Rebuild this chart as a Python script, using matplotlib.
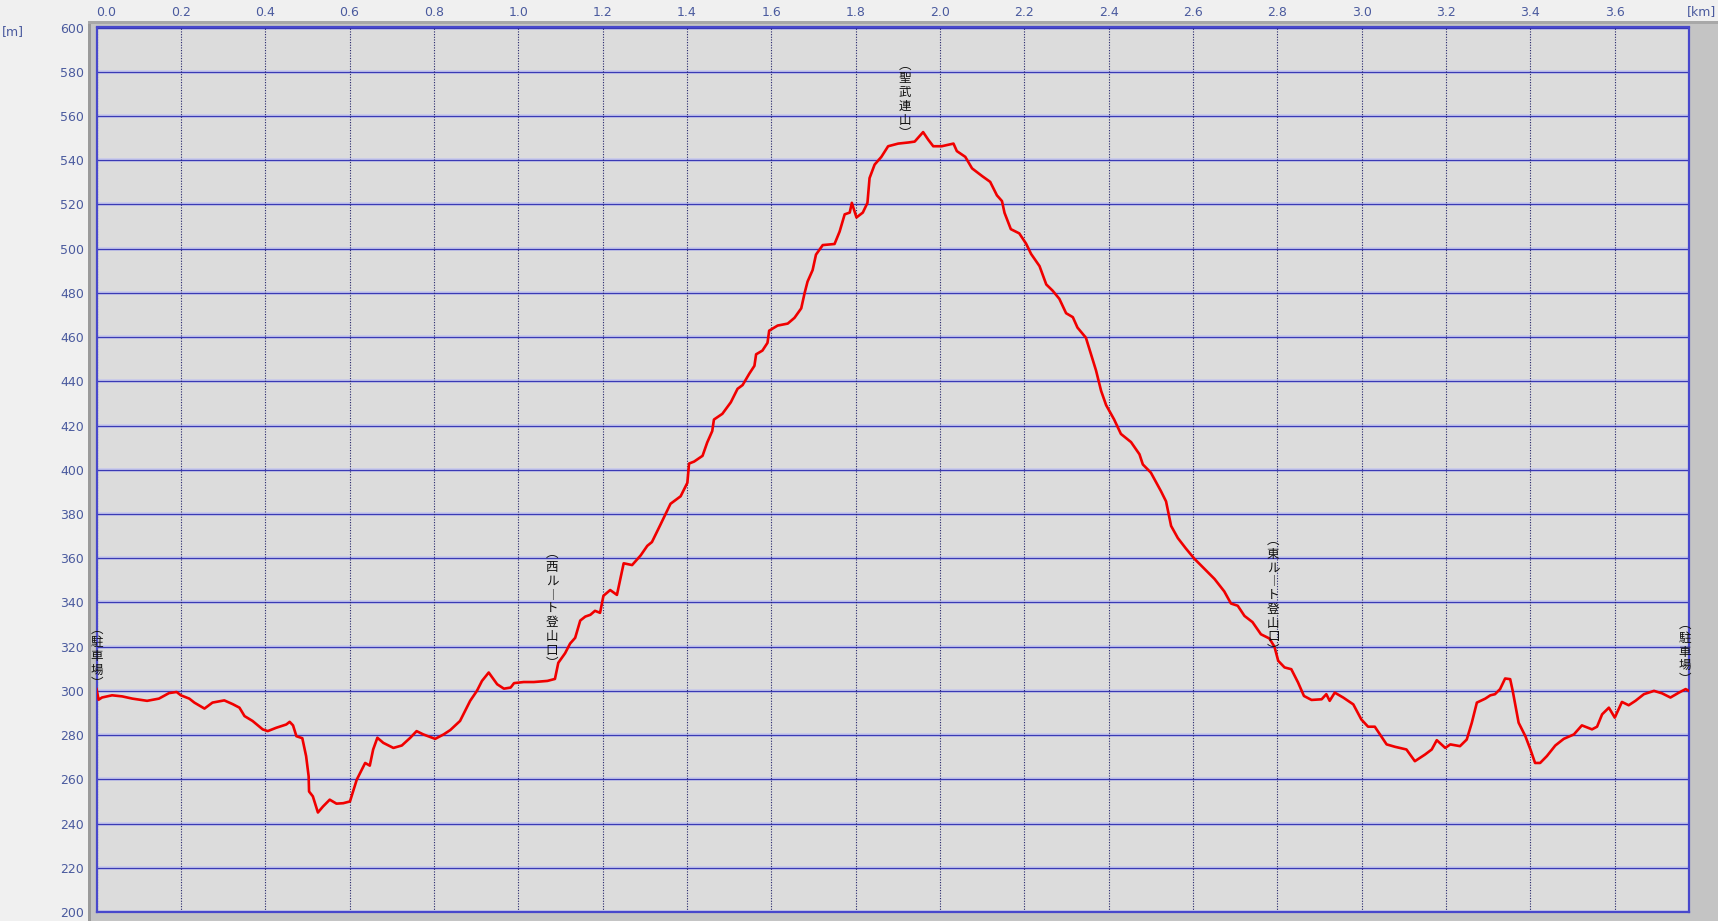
import numpy as np
import matplotlib
matplotlib.use("Agg")
from matplotlib import pyplot as plt
from matplotlib.patches import Rectangle

# distance along the route [km] and elevation [m]
dist = [0.0, 0.005, 0.013, 0.037, 0.061, 0.085, 0.12, 0.148, 0.172, 0.19, 0.20, 0.22, 0.232, 0.256,
        0.275, 0.303, 0.323, 0.339, 0.351, 0.37, 0.394, 0.406, 0.426, 0.45, 0.458, 0.466, 0.474,
        0.488, 0.497, 0.503, 0.504, 0.513, 0.525, 0.537, 0.553, 0.569, 0.585, 0.601, 0.617, 0.637,
        0.648, 0.656, 0.666, 0.68, 0.704, 0.724, 0.744, 0.759, 0.775, 0.803, 0.823, 0.839, 0.862,
        0.886, 0.902, 0.914, 0.93, 0.95, 0.966, 0.982, 0.99, 1.013, 1.037, 1.069, 1.087, 1.095,
        1.111, 1.123, 1.135, 1.147, 1.159, 1.171, 1.182, 1.194, 1.202, 1.218, 1.234, 1.25, 1.27,
        1.29, 1.306, 1.317, 1.337, 1.361, 1.385, 1.401, 1.405, 1.417, 1.437, 1.448, 1.46, 1.464,
        1.484, 1.504, 1.52, 1.532, 1.548, 1.56, 1.564, 1.579, 1.591, 1.595, 1.615, 1.639, 1.655,
        1.671, 1.679, 1.686, 1.698, 1.706, 1.722, 1.75, 1.762, 1.774, 1.786, 1.791, 1.802, 1.817,
        1.828, 1.833, 1.845, 1.861, 1.877, 1.901, 1.925, 1.94, 1.952, 1.96, 1.972, 1.984, 2.004,
        2.032, 2.04, 2.06, 2.076, 2.1, 2.119, 2.135, 2.147, 2.153, 2.168, 2.188, 2.204, 2.216,
        2.236, 2.252, 2.267, 2.283, 2.299, 2.315, 2.326, 2.346, 2.358, 2.37, 2.382, 2.394, 2.413,
        2.429, 2.453, 2.473, 2.481, 2.5, 2.524, 2.536, 2.548, 2.564, 2.583, 2.603, 2.627, 2.651,
        2.674, 2.69, 2.706, 2.722, 2.741, 2.761, 2.781, 2.793, 2.802, 2.817, 2.833, 2.849, 2.863,
        2.881, 2.905, 2.916, 2.924, 2.936, 2.956, 2.98, 2.999, 3.015, 3.031, 3.059, 3.079, 3.106,
        3.126, 3.15, 3.166, 3.178, 3.198, 3.21, 3.233, 3.249, 3.261, 3.273, 3.293, 3.305, 3.316,
        3.328, 3.34, 3.352, 3.358, 3.372, 3.388, 3.4, 3.411, 3.423, 3.439, 3.459, 3.479, 3.503,
        3.522, 3.546, 3.558, 3.57, 3.586, 3.6, 3.617, 3.633, 3.649, 3.669, 3.693, 3.712, 3.732,
        3.752, 3.768, 3.776]
elev = [300.8, 296, 297, 298, 297.5, 296.5, 295.5, 296.5, 299, 299.5, 298, 296.5, 294.7, 292,
        294.7, 295.7, 294, 292.4, 288.6, 286.4, 282.6, 281.8, 283.3, 284.8, 286, 284.4, 279.5,
        278.6, 270.5, 261.4, 254.5, 252.3, 245, 247.7, 250.8, 249, 249.2, 250, 259.8, 267.4,
        266.2, 273.5, 278.8, 276.5, 274.2, 275.3, 278.8, 281.8, 280.3, 278.3, 280.3, 282.3, 286.4,
        295.5, 300, 304.5, 308.3, 303, 301, 301.5, 303.5, 304, 304, 304.5, 305.4, 312.7,
        317, 321.4, 324, 331.8, 333.6, 334.4, 336.2, 335.3, 343, 345.6, 343.4, 357.7, 356.9,
        361.2, 365.6, 367.3, 375.1, 384.6, 388, 394.1, 402.8, 403.7, 406.3, 412.3, 417.5, 422.7,
        425.3, 430.5, 436.6, 438.3, 443.5, 447, 452.2, 453.9, 457.4, 462.9, 465.2, 466.1, 468.7,
        473, 479.9, 485.1, 490.3, 497.3, 501.6, 502.1, 507.7, 515.5, 516.3, 520.7, 514.1, 516.3,
        520.7, 531.9, 538, 541.5, 546.3, 547.5, 548, 548.4, 551, 552.7, 549.3, 546.3, 546.3,
        547.5, 544.1, 541.5, 536.3, 532.8, 530.2, 524.1, 521.5, 516.2, 508.8, 506.9, 502.3, 497.6,
        492.1, 483.8, 481, 477.3, 470.8, 469, 464.3, 459.7, 452.3, 444.9, 435.7, 429.2, 422.7,
        416.2, 412.5, 407, 402.4, 398.7, 390.3, 385.7, 374.6, 369.1, 364.4, 359.8, 355.2, 350.6,
        345, 339.5, 338.5, 333.9, 331.1, 325.6, 323.7, 320, 313.6, 310.6, 309.8, 303.8, 297.7,
        295.9, 296.2, 298.5, 295.5, 299.2, 297, 293.9, 287.1, 283.8, 283.8, 275.8, 274.7, 273.5,
        268.2, 271.2, 273.5, 277.7, 274.2, 275.8, 275, 278, 285.6, 294.7, 296.5, 298, 298.5,
        300.8, 305.6, 305.3, 300, 285.6, 279.5, 273.5, 267.4, 267.4, 270.5, 275.3, 278.3, 280.3,
        284.4, 282.6, 283.8, 289.4, 292.4, 287.9, 295, 293.5, 295.5, 298.5, 300, 298.9, 297,
        299.2, 300.8, 300]

# waypoints: position [km], top of label [m], name
wp_km = [0.0, 1.08, 1.917, 2.79, 3.766]
wp_top = [331, 365, 586, 371, 333]
wp_name = ["駐車場", "西ルート登山口", "聖武連山", "東ルート登山口", "駐車場"]

x_ticks = np.round(np.arange(0, 3.61, 0.2), 1)
y_ticks = list(range(200, 601, 20))

fig = plt.figure(figsize=(17.18, 9.21), dpi=100, facecolor="#f0f0f0")
# sunken grey frame round the plot
fig.patches.append(Rectangle((88 / 1718, 0), 1 - 88 / 1718, 1 - 21 / 921, transform=fig.transFigure,
                             facecolor="#c4c4c4", edgecolor="none", zorder=-3))
fig.patches.append(Rectangle((88 / 1718, 0), 3 / 1718, 1 - 21 / 921, transform=fig.transFigure,
                             facecolor="#9a9a9a", edgecolor="none", zorder=-2))
fig.patches.append(Rectangle((88 / 1718, 1 - 24 / 921), 1 - 88 / 1718, 3 / 921, transform=fig.transFigure,
                             facecolor="#a8a8a8", edgecolor="none", zorder=-2))

ax = fig.add_axes([96.5 / 1718, 1 - 912 / 921, (1689 - 96.5) / 1718, (912 - 27.5) / 921])
ax.set_zorder(1)
ax.set_facecolor("#dcdcdc")
ax.set_xlim(0, 3.776)
ax.set_ylim(200, 600)

# grid
for y in y_ticks:
    ax.axhline(y, color="#c6c8ec", lw=2.6, zorder=1)
    ax.axhline(y, color="#3a3ab4", lw=0.9, zorder=2)
for x in x_ticks:
    ax.axvline(x, color="#24246a", lw=0.8, ls=(0, (1, 1.4)), zorder=2)

ax.plot(dist, elev, color="#f00000", lw=1.9, zorder=4)

for s in ax.spines.values():
    s.set_color("#4848cc")
    s.set_linewidth(1.6)

ax.xaxis.tick_top()
ax.set_xticks(x_ticks)
ax.set_xticklabels([f"{v:.1f}" for v in x_ticks])
ax.set_yticks(y_ticks)
ax.tick_params(length=0, labelsize=9, labelcolor="#4a5a9e")
ax.tick_params(axis="x", pad=6)
ax.tick_params(axis="y", pad=9)
ax.get_xticklabels()[0].set_horizontalalignment("left")

fig.text(2 / 1718, 1 - 32 / 921, "[m]", fontsize=9, color="#4a5a9e", va="center", ha="left")
fig.text(1716 / 1718, 1 - 12 / 921, "[km]", fontsize=9, color="#4a5a9e", va="center", ha="right")

# vertical labels: one glyph per line, vertical presentation forms for brackets and long vowel
cjk = ["Noto Sans CJK JP", "DejaVu Sans"]
vert = {"ー": "︱"}
for km, top, name in zip(wp_km, wp_top, wp_name):
    s = "\n".join(["︵"] + [vert.get(c, c) for c in name] + ["︶"])
    ax.text(km, top, s, ha="center", va="top", fontsize=9, family=cjk, color="#111111",
            linespacing=1.08, zorder=5, clip_on=False)

fig.savefig("out.png", dpi=100, facecolor=fig.get_facecolor())
